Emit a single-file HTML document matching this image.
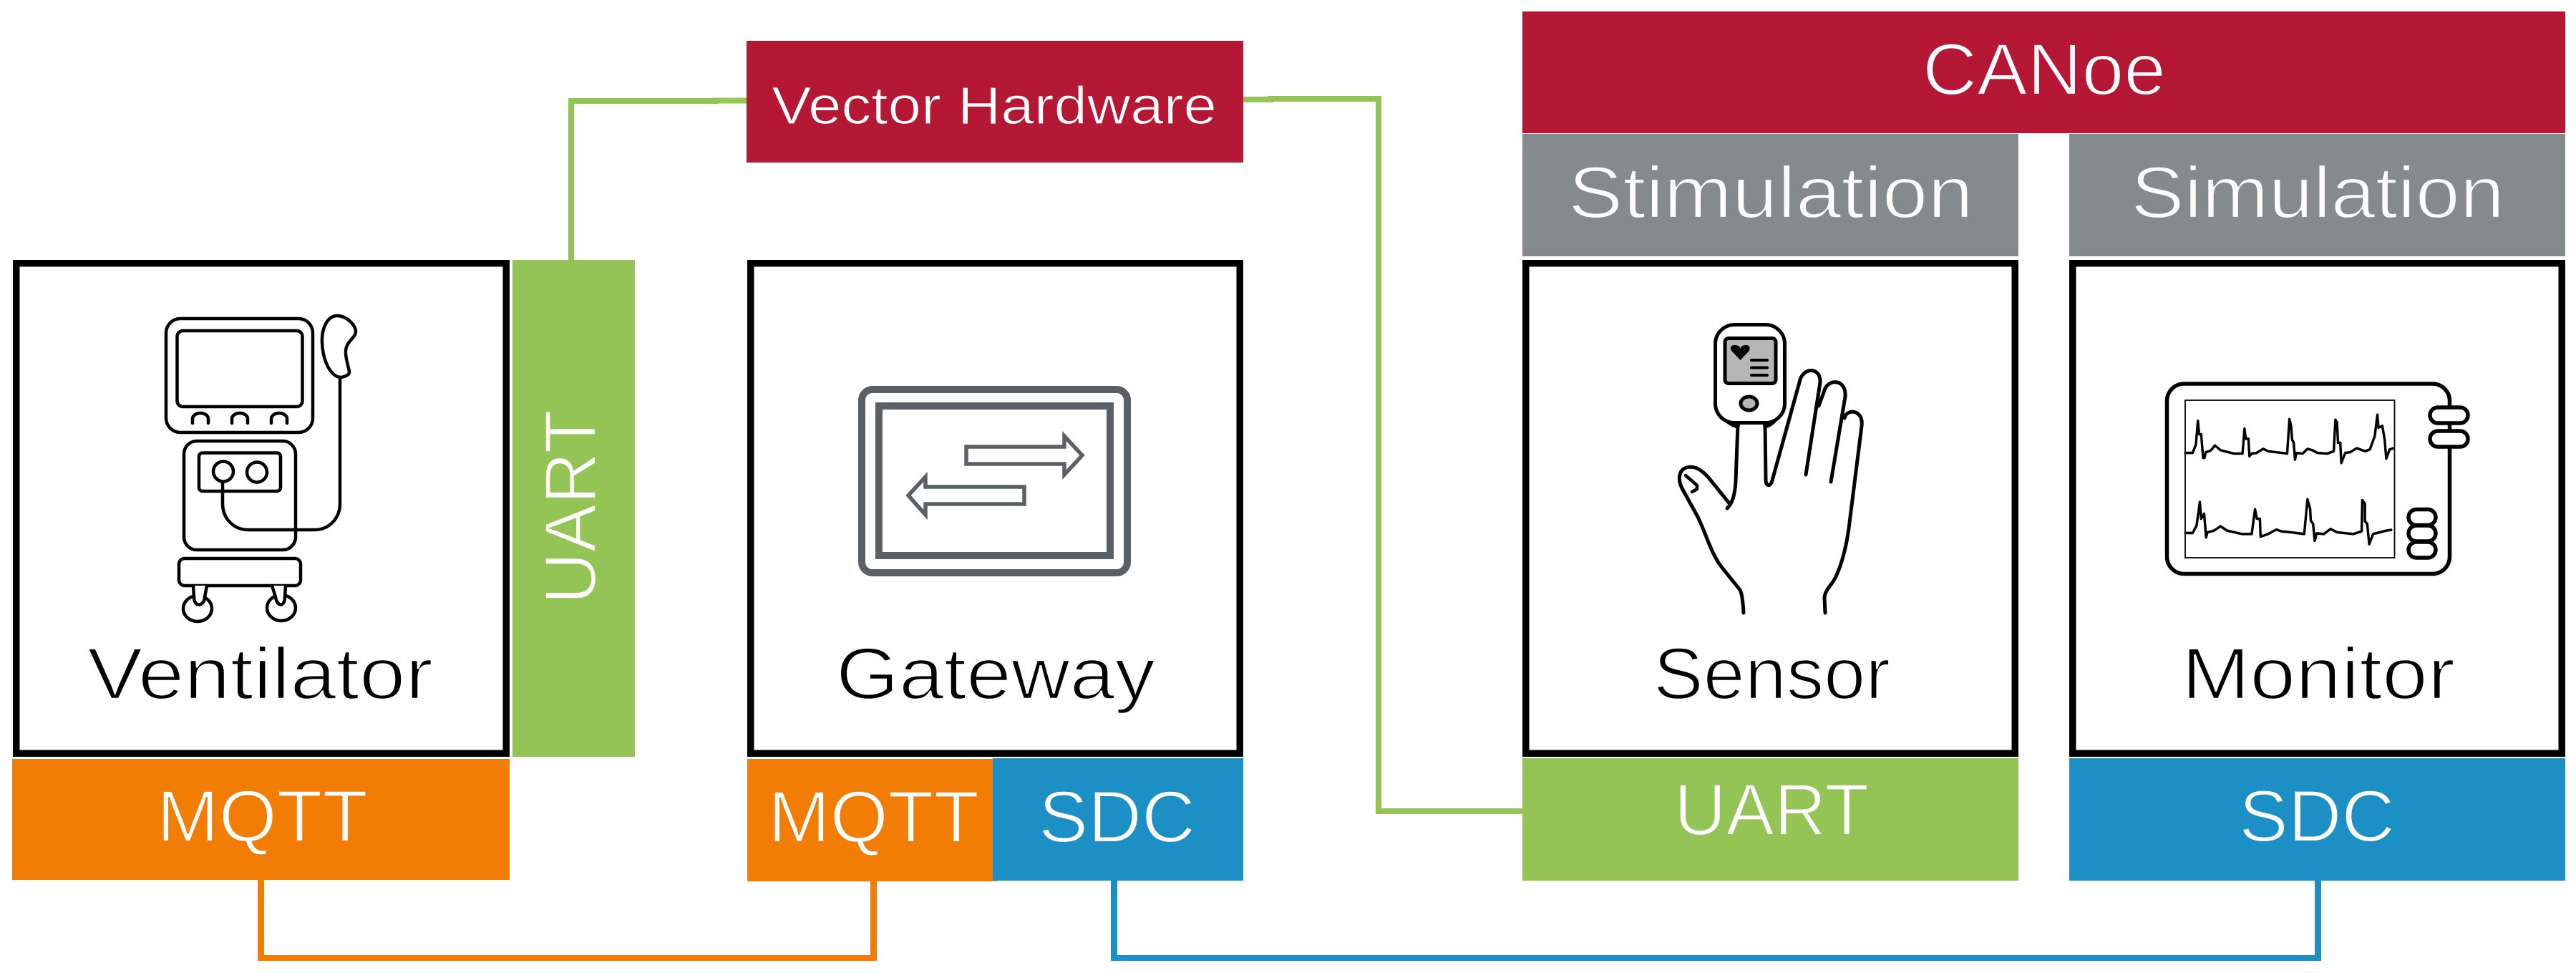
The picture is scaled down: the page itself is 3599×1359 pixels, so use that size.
<!DOCTYPE html>
<html><head><meta charset="utf-8"><title>Diagram</title>
<style>
html,body{margin:0;padding:0;background:#fff}
svg{display:block}
text{font-family:"Liberation Sans",sans-serif}
.k{fill:#000;stroke:#fff;stroke-width:2.400px}
.w{fill:#fff;stroke-width:2.200px}
.i{fill:none;stroke:#000;stroke-linejoin:round;stroke-linecap:round}
</style></head>
<body>
<svg xmlns="http://www.w3.org/2000/svg" width="3599" height="1359" viewBox="0 0 3599 1359">
<rect width="3599" height="1359" fill="#fff"/>

<!-- connectors -->
<g fill="none" stroke-linejoin="miter">
<path d="M798 363V141H1000V140.500H1043" stroke="#94c356" stroke-width="8"/>
<path d="M1737 139H1775V138H1926V1133H2127" stroke="#94c356" stroke-width="8"/>
</g>
<rect x="360" y="1229" width="9" height="113" fill="#f17d05"/>
<rect x="360" y="1334" width="865" height="8" fill="#f17d05"/>
<rect x="1216" y="1229" width="9" height="113" fill="#f17d05"/>
<rect x="1552" y="1229" width="9" height="113" fill="#1c8fc5"/>
<rect x="1552" y="1334" width="1691" height="8" fill="#1c8fc5"/>
<rect x="3234" y="1229" width="9" height="113" fill="#1c8fc5"/>

<!-- coloured blocks -->
<rect x="1043" y="57" width="694" height="170" fill="#b51835"/>
<rect x="2127" y="16" width="1457" height="170" fill="#b51835"/>
<rect x="2127" y="187" width="693" height="171" fill="#858b8d"/>
<rect x="2891" y="187" width="693" height="171" fill="#858b8d"/>
<rect x="716" y="363" width="171" height="694" fill="#94c356"/>
<rect x="17" y="1060" width="695" height="169" fill="#f17d05"/>
<rect x="1044" y="1060" width="349" height="171" fill="#f17d05"/>
<rect x="1387" y="1059" width="350" height="171" fill="#1c8fc5"/>
<rect x="2127" y="1059" width="693" height="171" fill="#94c356"/>
<rect x="2891" y="1059" width="693" height="171" fill="#1c8fc5"/>

<!-- boxes -->
<g fill="#fff" stroke="#000" stroke-width="9.500">
<rect x="22.750" y="367.750" width="684.500" height="684.500"/>
<rect x="1048.750" y="367.750" width="683.500" height="684.500"/>
<rect x="2131.750" y="367.750" width="683.500" height="684.500"/>
<rect x="2895.750" y="367.750" width="683.500" height="684.500"/>
</g>

<!-- labels -->
<g font-size="102">
<text class="k" x="122" y="976" textLength="483" lengthAdjust="spacingAndGlyphs">Ventilator</text>
<text class="k" x="1168" y="976" textLength="446" lengthAdjust="spacingAndGlyphs">Gateway</text>
<text class="k" x="2310" y="976" textLength="331" lengthAdjust="spacingAndGlyphs">Sensor</text>
<text class="k" x="3048" y="976" textLength="382" lengthAdjust="spacingAndGlyphs">Monitor</text>
<text class="w" stroke="#b51835" x="2686" y="132" textLength="340" lengthAdjust="spacingAndGlyphs">CANoe</text>
<text class="w" stroke="#858b8d" x="2191" y="304" textLength="566" lengthAdjust="spacingAndGlyphs">Stimulation</text>
<text class="w" stroke="#858b8d" x="2977" y="304" textLength="522" lengthAdjust="spacingAndGlyphs">Simulation</text>
<text class="w" stroke="#f17d05" x="219" y="1175" textLength="295" lengthAdjust="spacingAndGlyphs">MQTT</text>
<text class="w" stroke="#f17d05" x="1073" y="1176" textLength="295" lengthAdjust="spacingAndGlyphs">MQTT</text>
<text class="w" stroke="#1c8fc5" x="1451" y="1176" textLength="219" lengthAdjust="spacingAndGlyphs">SDC</text>
<text class="w" stroke="#94c356" x="2339" y="1166" textLength="272" lengthAdjust="spacingAndGlyphs">UART</text>
<text class="w" stroke="#1c8fc5" x="3128" y="1175" textLength="218" lengthAdjust="spacingAndGlyphs">SDC</text>
<text class="w" stroke="#94c356" transform="translate(832 844) rotate(-90)" x="0" y="0" textLength="272" lengthAdjust="spacingAndGlyphs">UART</text>
</g>
<text class="w" stroke="#b51835" style="stroke-width:1.200px" x="1078" y="173" font-size="74" textLength="622" lengthAdjust="spacingAndGlyphs">Vector Hardware</text>

<!-- ventilator icon -->
<g class="i" stroke-width="4.500">
<rect x="232" y="445" width="205" height="159" rx="20"/>
<rect x="247.500" y="462" width="175" height="106" rx="8"/>
<path d="M269 591V585A11 8 0 0 1 291 585V591M324 591V585A11 8 0 0 1 346 585V591M379 591V585A11 8 0 0 1 401 585V591"/>
<rect x="257" y="616" width="156" height="152" rx="18"/>
<rect x="278" y="632.500" width="114" height="53.500" rx="5"/>
<ellipse cx="312" cy="658.500" rx="14" ry="14"/>
<ellipse cx="359" cy="659.500" rx="14" ry="14"/>
<path d="M311 673V703C311 724 326 740 347 740H439C460 740 475 724 475 703V527"/>
<path d="M475 527C462 525 451 505 450 478C449 458 458 441 471 441C484 441 497 454 497 463C497 472 484 476 483 490C482 500 488 515 488 520C488 524 480 527 475 527Z"/>
<rect x="250" y="780" width="170" height="38" rx="8"/>
<ellipse cx="276" cy="850" rx="20" ry="18"/>
<ellipse cx="393" cy="849" rx="20" ry="18"/>
<path d="M270 818L271 834C271 848 285 848 286 834L289 818M380 818L385 834C387 848 398 848 398 834L399 818" fill="#fff"/>
</g>

<!-- gateway icon -->
<g fill="none" stroke="#5a6063">
<rect x="1204" y="544" width="371" height="256" rx="15" stroke-width="10"/>
<rect x="1228" y="567" width="323" height="209" stroke-width="10"/>
<path d="M1350 624H1487V609L1512 636L1487 663V648H1350Z" stroke-width="5.500" stroke-linejoin="miter"/>
<path d="M1431 680H1293V666L1269 692L1293 719V704H1431Z" stroke-width="5.500" stroke-linejoin="miter"/>
</g>

<!-- sensor icon -->
<g class="i" stroke-width="5">
<path d="M2400 570C2405 585 2418 594 2428 596L2429 590ZM2490 570C2485 585 2475 594 2466 596L2465 590Z" fill="#b5b5b4"/>
<rect x="2396.500" y="453.500" width="97" height="137" rx="27" fill="#fff"/>
<rect x="2410" y="472.500" width="71" height="63" rx="5" fill="#b5b5b4"/>
<ellipse cx="2443.500" cy="563.500" rx="11.500" ry="9.500" fill="#b5b5b4"/>
<path d="M2447 503H2469M2447 513.500H2469M2447 524H2469" stroke-width="4"/>
<path d="M2431.500 503L2420 491C2415 484 2420 482 2424 482C2428 482 2431 484 2431.500 487C2432 484 2435 482 2439 482C2443 482 2447 484 2443 491Z" fill="#000" stroke="none"/>
<path d="M2428 593L2425 672C2424 690 2421 702 2413 710"/>
<path d="M2466 593L2467 670C2467 680 2474 680 2476 671L2514 534C2518 512 2544 512 2543 534L2523 663"/>
<path d="M2541 567L2548 548C2552 528 2580 528 2578 554L2558 673"/>
<path d="M2577 584C2580 570 2604 572 2601 595L2584 730C2580 765 2572 790 2566 803C2560 818 2550 822 2549 835L2550 856"/>
<path d="M2436 856C2435 840 2434 830 2431 824C2420 810 2408 796 2401 786C2388 765 2382 742 2372 722L2350 682C2344 670 2345 657 2356 653C2368 650 2377 656 2387 667L2416 703"/>
<path d="M2355 664L2371 678L2371 683L2364 687" stroke-width="4.500"/>
</g>

<!-- monitor icon -->
<g class="i" stroke-width="5.500">
<rect x="3027.500" y="536" width="395" height="265.500" rx="24" fill="none"/>
<rect x="3053" y="559" width="292.500" height="220" stroke-width="1.800" stroke-linejoin="miter" fill="#fff"/>
<rect x="3395" y="569" width="53" height="22" rx="11" fill="#fff"/>
<rect x="3395" y="602" width="53" height="22" rx="11" fill="#fff"/>
<rect x="3365" y="711.500" width="38" height="22" rx="11" fill="#fff"/>
<rect x="3365" y="734" width="38" height="22" rx="11" fill="#fff"/>
<rect x="3365" y="757" width="38" height="22" rx="11" fill="#fff"/>
<g transform="translate(2880 340) scale(.4585 .4719)" stroke-width="7.500">
<polyline points="378,620 400,620 410,595 416,525 420,565 426,565 432,635 436,635 440,618 455,613 468,598 485,612 525,622 552,622 558,548 562,578 570,578 573,630 580,622 595,620 615,608 630,615 688,622 695,520 700,540 703,580 708,590 712,640 716,620 735,622 750,608 765,612 780,620 810,622 830,615 835,522 840,530 843,590 850,590 853,650 865,620 880,618 900,606 925,615 940,610 955,570 963,507 966,545 978,540 985,580 990,637 1000,610 1012,606"/>
<polyline points="378,857 400,857 412,835 422,765 426,815 435,800 441,870 445,855 465,850 485,837 505,850 550,860 580,860 590,787 596,815 605,815 607,868 630,860 655,847 670,852 700,855 740,860 750,757 758,785 760,820 767,830 772,880 778,858 800,860 820,845 840,855 890,860 915,852 917,760 925,770 925,822 932,830 938,890 950,860 970,855 990,850 1005,848"/>
</g>
</g>
</svg>
</body></html>
